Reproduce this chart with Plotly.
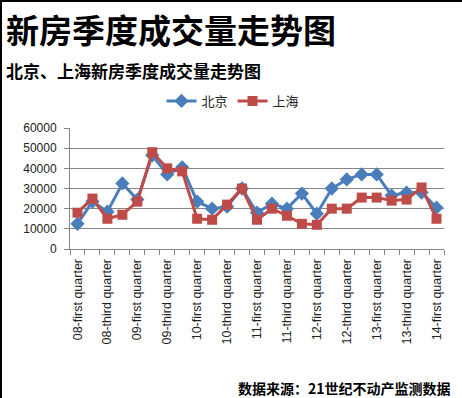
import plotly.graph_objects as go

years = ["08", "09", "10", "11", "12", "13"]
quarters = ["first", "second", "third", "fourth"]
categories = [f"{y}-{q} quarter" for y in years for q in quarters] + ["14-first quarter"]

beijing = [12500, 23500, 18500, 32500, 24500, 46500, 37000, 40500, 23500, 20000, 21000, 30000,
           18000, 22500, 20000, 27500, 17500, 30000, 34500, 37000, 37000, 26500, 28000, 28000, 20500]
shanghai = [18000, 25000, 15000, 17000, 23500, 48000, 40000, 38500, 15000, 14500, 22000, 30000,
            14500, 20000, 16500, 12500, 12000, 20000, 20000, 25500, 25500, 24000, 24500, 30500, 15000]

y_ticks = [0, 10000, 20000, 30000, 40000, 50000, 60000]

title_text = "新房季度成交量走势图"
subtitle_text = "北京、上海新房季度成交量走势图"
source_text = "数据来源：21世纪不动产监测数据"

W, H = 462, 398
ML, MR, MT, MB = 70, 18, 128, 149
PW = W - ML - MR
PH = H - MT - MB


def px(x):
    return (x - ML) / PW


def py(y):
    return (H - MB - y) / PH


CJK = "Noto Sans CJK SC"
LAT = "Liberation Sans"

tick_text = [c if i % 2 == 0 else "" for i, c in enumerate(categories)]

fig = go.Figure()
fig.add_trace(go.Scatter(
    x=categories, y=beijing, name="北京", mode="lines+markers",
    line=dict(color="#4A7EBB", width=3),
    marker=dict(symbol="diamond", size=11, color="#4A7EBB"),
))
fig.add_trace(go.Scatter(
    x=categories, y=shanghai, name="上海", mode="lines+markers",
    line=dict(color="#BE4B48", width=3),
    marker=dict(symbol="square", size=10, color="#BE4B48"),
))

fig.update_layout(
    width=W, height=H,
    margin=dict(l=ML, r=MR, t=MT, b=MB, pad=0),
    paper_bgcolor="white", plot_bgcolor="white",
    showlegend=True,
    legend=dict(orientation="h", x=px(233), y=py(101), xanchor="center", yanchor="middle",
                font=dict(family=CJK, size=13, color="#222"), itemwidth=30,
                bgcolor="rgba(0,0,0,0)", tracegroupgap=0),
    xaxis=dict(
        type="category", tickmode="array", tickvals=categories, ticktext=tick_text,
        tickson="boundaries", ticks="outside", ticklen=5, tickcolor="#868686",
        showline=True, linecolor="#868686", linewidth=1, showgrid=False,
        tickangle=-90, tickfont=dict(family=LAT, size=12.5, color="#222"),
        ticklabelstandoff=4,
        range=[-0.5, len(categories) - 0.5], fixedrange=True,
    ),
    yaxis=dict(
        range=[0, 60000], tickmode="array", tickvals=y_ticks,
        ticktext=[str(v) for v in y_ticks],
        ticks="outside", ticklen=5, tickcolor="#868686",
        showline=True, linecolor="#868686", linewidth=1,
        showgrid=True, gridcolor="#868686", gridwidth=1, zeroline=False,
        tickfont=dict(family=LAT, size=12, color="#222"), ticklabelstandoff=5,
        fixedrange=True,
    ),
    annotations=[
        dict(text=f"<b>{title_text}</b>", x=px(4), y=py(29), xref="paper", yref="paper",
             xanchor="left", yanchor="middle", showarrow=False,
             font=dict(family=CJK, size=33, color="#000")),
        dict(text=f"<b>{subtitle_text}</b>", x=px(4), y=py(70), xref="paper", yref="paper",
             xanchor="left", yanchor="middle", showarrow=False,
             font=dict(family=CJK, size=17, color="#000")),
        dict(text=f"<b>{source_text}</b>", x=px(453), y=py(388), xref="paper", yref="paper",
             xanchor="right", yanchor="middle", showarrow=False,
             font=dict(family=CJK, size=14, color="#000")),
    ],
    shapes=[
        dict(type="line", xref="paper", yref="paper", x0=px(0), x1=px(W), y0=py(1), y1=py(1),
             line=dict(color="#000", width=2)),
        dict(type="line", xref="paper", yref="paper", x0=px(1), x1=px(1), y0=py(0), y1=py(H),
             line=dict(color="#000", width=2)),
    ],
)

fig.write_html(
    "out.html",
    config={"displayModeBar": False},
    post_script="document.body.style.margin='0';document.body.style.padding='0';",
)
